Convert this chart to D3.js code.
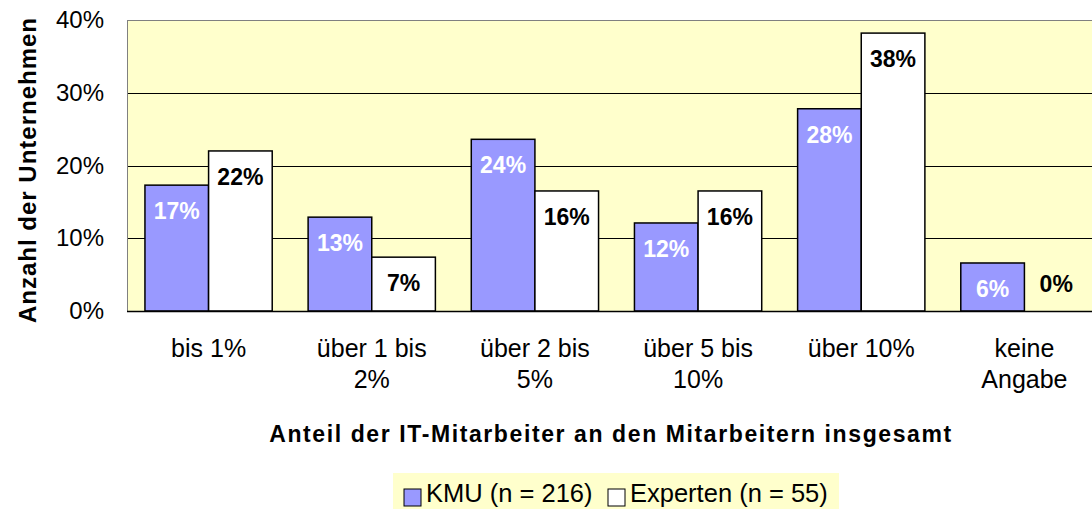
<!DOCTYPE html>
<html>
<head>
<meta charset="utf-8">
<script src="https://cdn.jsdelivr.net/npm/d3@7"></script>
<style>
  body { margin: 0; background: #fff; }
  svg { display: block; font-family: Arial, "Liberation Sans", sans-serif; }
</style>
</head>
<body>
<div id="chart"></div>
<script>
var categories = [['bis 1%'], ['über 1 bis', '2%'], ['über 2 bis', '5%'], ['über 5 bis', '10%'], ['über 10%'], ['keine', 'Angabe']];
var kmuValues = [17.3, 12.9, 23.6, 12.1, 27.8, 6.6];
var expValues = [22.0, 7.4, 16.5, 16.5, 38.2, 0];
var kmuLabels = ['17%', '13%', '24%', '12%', '28%', '6%'];
var expLabels = ['22%', '7%', '16%', '16%', '38%', '0%'];
var yTicks = [0, 10, 20, 30, 40];
var seriesNames = ['KMU (n = 216)', 'Experten (n = 55)'];

var width = 1092, height = 509;
var plot = { left: 127, top: 20, right: 1106, bottom: 311 };

var svg = d3.select('#chart').append('svg')
  .attr('width', width)
  .attr('height', height);

var x = d3.scaleBand()
  .domain(d3.range(categories.length))
  .range([plot.left, plot.right])
  .paddingInner(0.22)
  .paddingOuter(0.11);

var x1 = d3.scaleBand()
  .domain([0, 1])
  .range([0, x.bandwidth()]);

var y = d3.scaleLinear()
  .domain([0, 40])
  .range([plot.bottom, plot.top]);

// plot background
svg.append('rect')
  .attr('x', plot.left)
  .attr('y', plot.top)
  .attr('width', plot.right - plot.left)
  .attr('height', plot.bottom - plot.top)
  .attr('fill', '#ffffcc');

// gridlines
svg.append('g')
  .selectAll('line')
  .data(yTicks.slice(1, 4))
  .enter()
  .append('line')
  .attr('x1', plot.left)
  .attr('x2', plot.right)
  .attr('y1', function(d) { return Math.round(y(d)) + 0.5 })
  .attr('y2', function(d) { return Math.round(y(d)) + 0.5 })
  .attr('stroke', '#000')
  .attr('stroke-width', 1);

svg.append('line')
  .attr('x1', plot.left).attr('x2', plot.right)
  .attr('y1', plot.top + 0.5).attr('y2', plot.top + 0.5)
  .attr('stroke', '#808080');

svg.append('line')
  .attr('x1', plot.left + 0.5).attr('x2', plot.left + 0.5)
  .attr('y1', plot.top).attr('y2', plot.bottom)
  .attr('stroke', '#808080');

// y axis labels
var yAxis = d3.axisLeft(y)
  .tickValues(yTicks)
  .tickFormat(function(d) { return d + '%' })
  .tickSize(0)
  .tickPadding(23);

var gy = svg.append('g')
  .attr('transform', 'translate(' + plot.left + ',0)')
  .call(yAxis);
gy.select('.domain').remove();
gy.selectAll('text')
  .attr('font-size', 24)
  .attr('font-family', 'Arial, "Liberation Sans", sans-serif')
  .attr('fill', '#000');

// bars
var groups = svg.append('g')
  .selectAll('g')
  .data(categories)
  .enter()
  .append('g')
  .attr('transform', function(d, i) { return 'translate(' + x(i) + ',0)' });

var series = [
  { values: kmuValues, labels: kmuLabels, fill: '#9999ff', text: '#fff' },
  { values: expValues, labels: expLabels, fill: '#fff', text: '#000' }
];

series.forEach(function(s, si) {
  groups.append('rect')
    .filter(function(d, i) { return s.values[i] > 0 })
    .attr('x', x1(si))
    .attr('y', function(d, i) { return y(s.values[i]) })
    .attr('width', x1.bandwidth())
    .attr('height', function(d, i) { return plot.bottom - y(s.values[i]) })
    .attr('fill', s.fill)
    .attr('stroke', '#000')
    .attr('stroke-width', 1.5);

  groups.append('text')
    .attr('x', x1(si) + x1.bandwidth() / 2)
    .attr('y', function(d, i) {
      return s.values[i] > 0 ? y(s.values[i]) + 34 : plot.bottom - 19;
    })
    .attr('text-anchor', 'middle')
    .attr('font-size', 23)
    .attr('font-weight', 'bold')
    .attr('fill', s.text)
    .text(function(d, i) { return s.labels[i] });
});

// bottom axis line
svg.append('line')
  .attr('x1', plot.left).attr('x2', plot.right)
  .attr('y1', plot.bottom + 0.5).attr('y2', plot.bottom + 0.5)
  .attr('stroke', '#000')
  .attr('stroke-width', 1.5);

// x category labels
var xl = svg.append('g')
  .selectAll('text')
  .data(categories)
  .enter()
  .append('text')
  .attr('text-anchor', 'middle')
  .attr('font-size', 25)
  .attr('fill', '#000')
  .attr('transform', function(d, i) { return 'translate(' + (x(i) + x.bandwidth() / 2) + ',357)' });

xl.selectAll('tspan')
  .data(function(d) { return d })
  .enter()
  .append('tspan')
  .attr('x', 0)
  .attr('dy', function(d, i) { return i === 0 ? 0 : 31 })
  .text(function(d) { return d });

// axis titles
svg.append('text')
  .attr('x', 611)
  .attr('y', 442)
  .attr('text-anchor', 'middle')
  .attr('font-size', 23)
  .attr('font-weight', 'bold')
  .attr('letter-spacing', 1.6)
  .text('Anteil der IT-Mitarbeiter an den Mitarbeitern insgesamt');

svg.append('text')
  .attr('transform', 'translate(36,170) rotate(-90)')
  .attr('text-anchor', 'middle')
  .attr('font-size', 24)
  .attr('font-weight', 'bold')
  .attr('letter-spacing', 1)
  .text('Anzahl der Unternehmen');

// legend
var legend = svg.append('g');
legend.append('rect')
  .attr('x', 393).attr('y', 473)
  .attr('width', 446).attr('height', 36)
  .attr('fill', '#ffffcc');

var lx = [404, 608];
seriesNames.forEach(function(name, i) {
  legend.append('rect')
    .attr('x', lx[i]).attr('y', 489)
    .attr('width', 17).attr('height', 17)
    .attr('fill', series[i].fill)
    .attr('stroke', '#000')
    .attr('stroke-width', 1);
  legend.append('text')
    .attr('x', lx[i] + 22).attr('y', 502)
    .attr('font-size', 25.5)
    .text(name);
});
</script>
</body>
</html>
